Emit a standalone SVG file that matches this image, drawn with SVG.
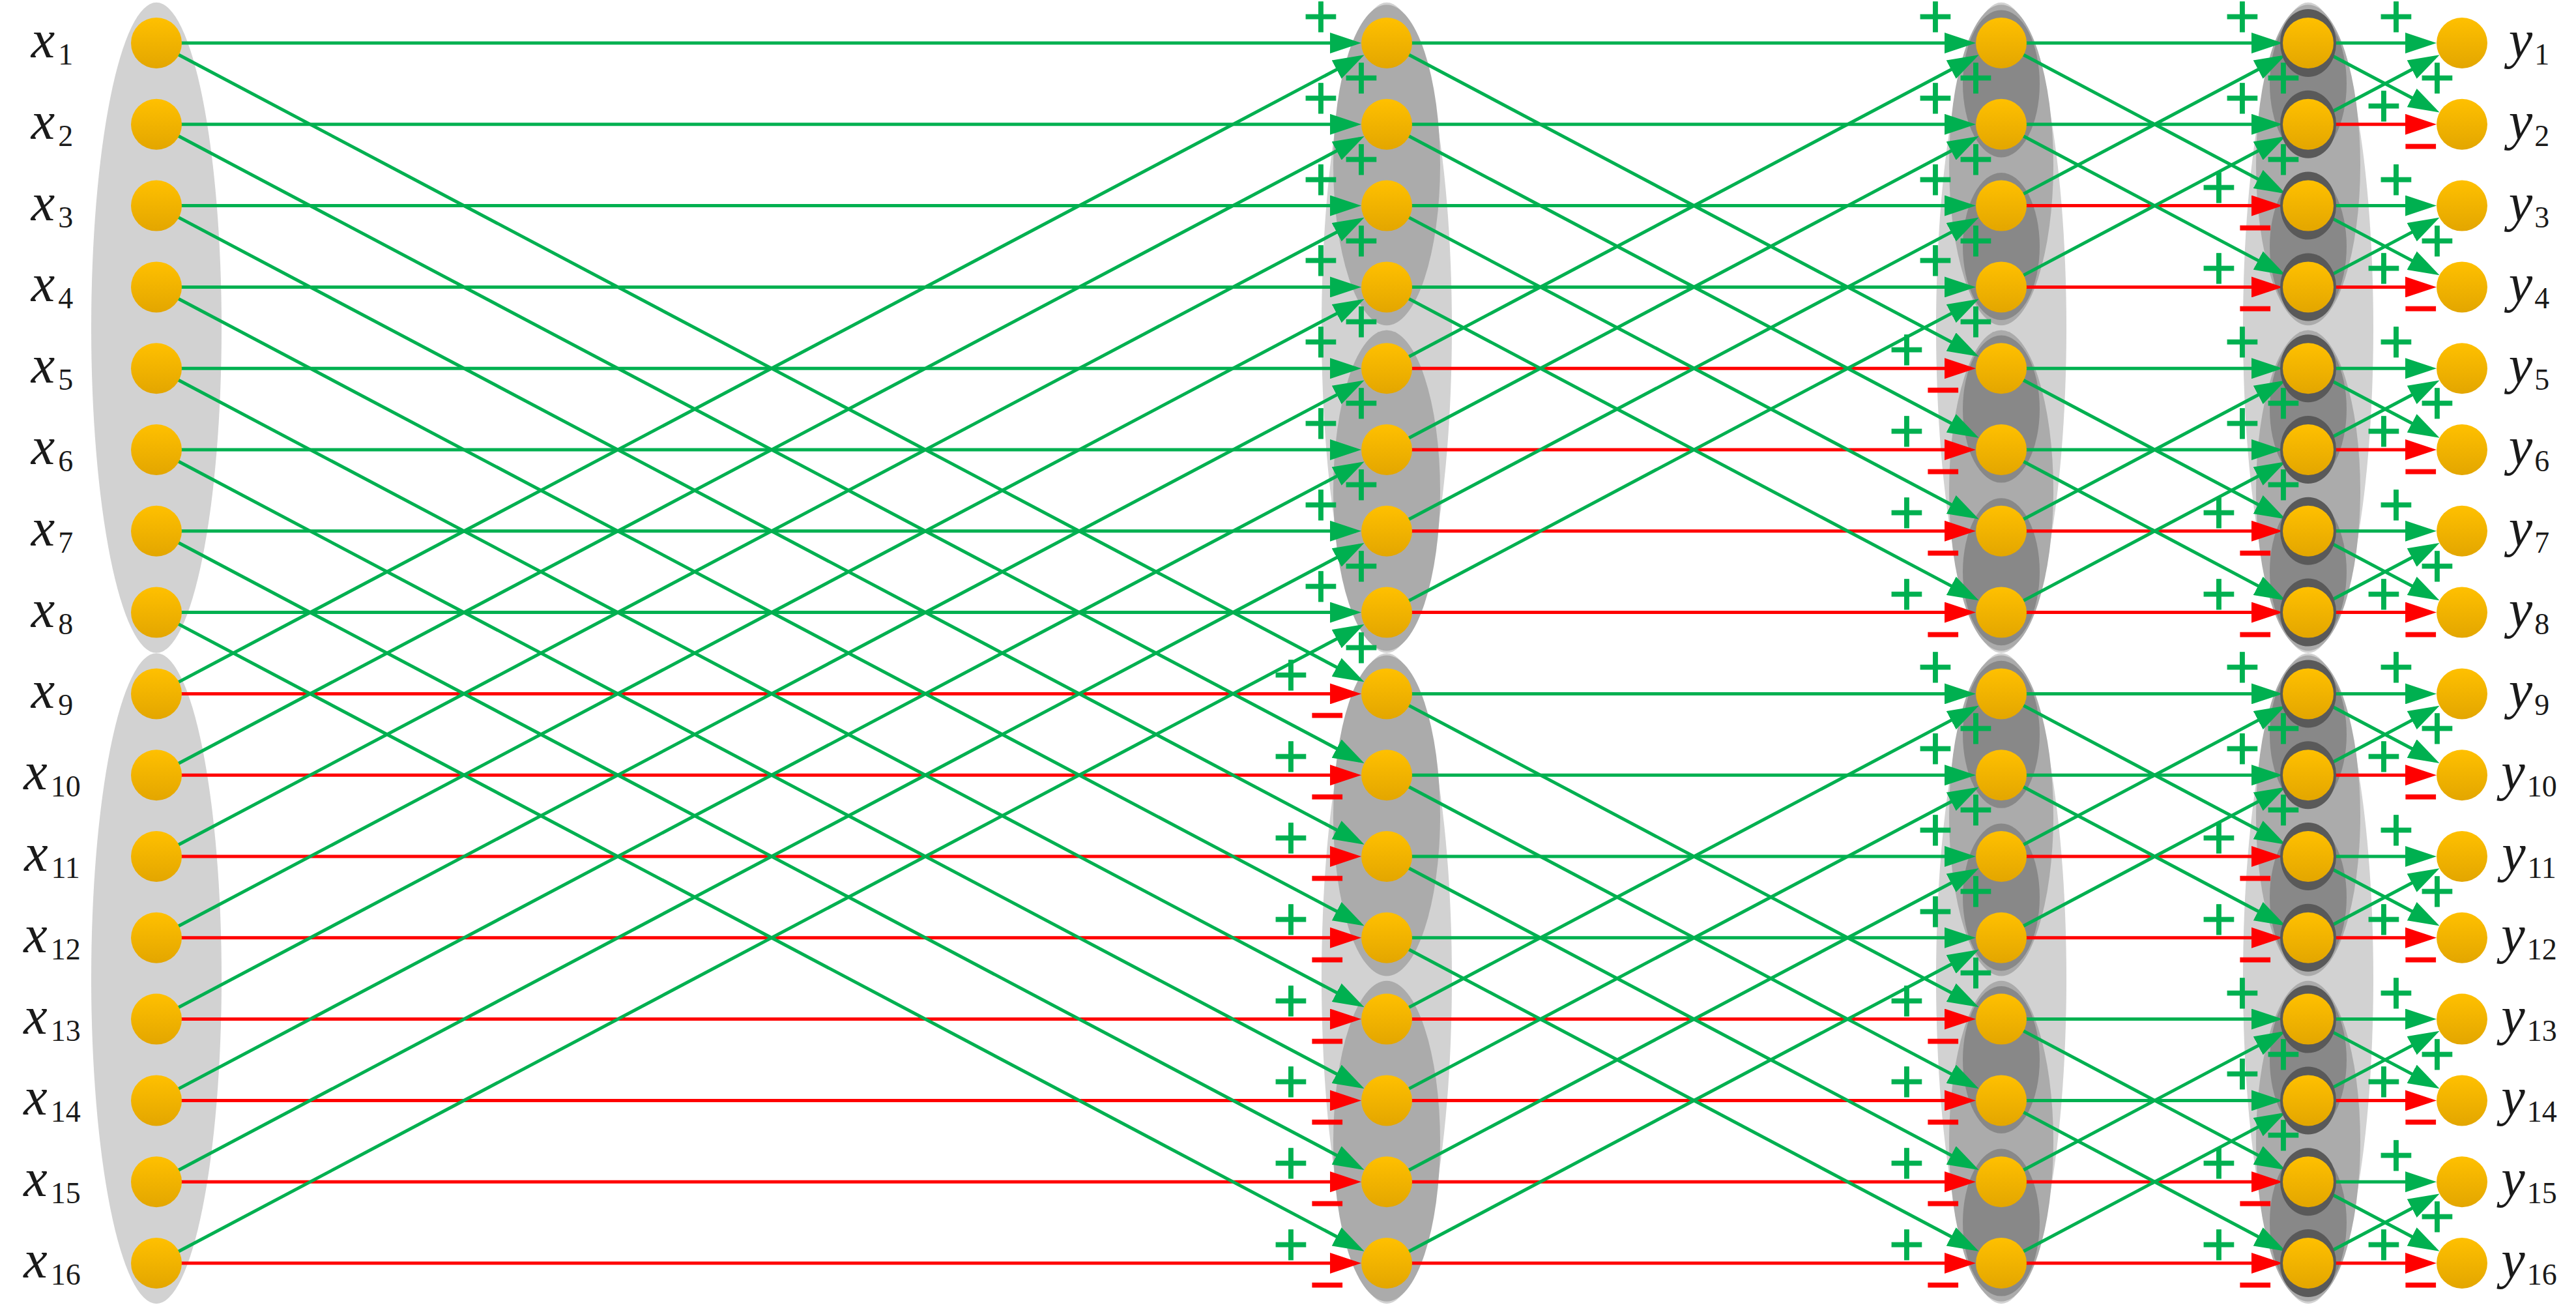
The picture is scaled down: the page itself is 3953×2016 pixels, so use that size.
<svg xmlns="http://www.w3.org/2000/svg" width="3953" height="2016" viewBox="0 0 3953 2016">
<defs>
<linearGradient id="ng" x1="0" y1="0" x2="0" y2="1"><stop offset="0" stop-color="#FFC000"/><stop offset="1" stop-color="#E3A600"/></linearGradient>
<marker id="ag" markerUnits="userSpaceOnUse" markerWidth="48" markerHeight="32" viewBox="0 -16 48 32" refX="40" refY="0" orient="auto"><path d="M0,-16 L48,0 L0,16 z" fill="#00B050"/></marker>
<marker id="ar" markerUnits="userSpaceOnUse" markerWidth="48" markerHeight="32" viewBox="0 -16 48 32" refX="40" refY="0" orient="auto"><path d="M0,-16 L48,0 L0,16 z" fill="#FF0000"/></marker>
<style>
.g{stroke:#00B050;stroke-width:5;marker-end:url(#ag)}
.r{stroke:#FF0000;stroke-width:5;marker-end:url(#ar)}
.n{fill:url(#ng)}
.l0{fill:#d2d2d2}.l1{fill:#ababab}.l2{fill:#888888}.l3{fill:#595959}
.t{font-family:"Liberation Serif","Times New Roman",serif;font-size:82px;font-style:italic;fill:#1a1a1a;text-anchor:middle}
.s{font-style:normal;font-size:46px}
.p{font-family:"Liberation Sans",Arial,sans-serif;font-size:94px;text-anchor:middle;fill:#00B050;stroke:#00B050;stroke-width:1}
.m{font-family:"Liberation Sans",Arial,sans-serif;font-size:94px;text-anchor:middle;fill:#FF0000;stroke:#FF0000;stroke-width:1}
</style>
</defs>
<rect width="3953" height="2016" fill="#ffffff"/>
<g id="groups">
<ellipse cx="240" cy="502.8" rx="100" ry="499" class="l0"/>
<ellipse cx="240" cy="1501.2" rx="100" ry="499" class="l0"/>
<ellipse cx="2128" cy="502.8" rx="100" ry="499" class="l0"/>
<ellipse cx="2128" cy="1501.2" rx="100" ry="499" class="l0"/>
<ellipse cx="2128" cy="253.2" rx="82" ry="246" class="l1"/>
<ellipse cx="2128" cy="752.4" rx="82" ry="246" class="l1"/>
<ellipse cx="2128" cy="1251.6" rx="82" ry="246" class="l1"/>
<ellipse cx="2128" cy="1750.8" rx="82" ry="246" class="l1"/>
<ellipse cx="3071" cy="502.8" rx="100" ry="499" class="l0"/>
<ellipse cx="3071" cy="1501.2" rx="100" ry="499" class="l0"/>
<ellipse cx="3071" cy="253.2" rx="80" ry="246" class="l1"/>
<ellipse cx="3071" cy="752.4" rx="80" ry="246" class="l1"/>
<ellipse cx="3071" cy="1251.6" rx="80" ry="246" class="l1"/>
<ellipse cx="3071" cy="1750.8" rx="80" ry="246" class="l1"/>
<ellipse cx="3071" cy="128.4" rx="59" ry="113" class="l2"/>
<ellipse cx="3071" cy="378" rx="59" ry="113" class="l2"/>
<ellipse cx="3071" cy="627.6" rx="59" ry="113" class="l2"/>
<ellipse cx="3071" cy="877.2" rx="59" ry="113" class="l2"/>
<ellipse cx="3071" cy="1126.8" rx="59" ry="113" class="l2"/>
<ellipse cx="3071" cy="1376.4" rx="59" ry="113" class="l2"/>
<ellipse cx="3071" cy="1626" rx="59" ry="113" class="l2"/>
<ellipse cx="3071" cy="1875.6" rx="59" ry="113" class="l2"/>
<ellipse cx="3542" cy="502.8" rx="100" ry="499" class="l0"/>
<ellipse cx="3542" cy="1501.2" rx="100" ry="499" class="l0"/>
<ellipse cx="3542" cy="253.2" rx="80" ry="246" class="l1"/>
<ellipse cx="3542" cy="752.4" rx="80" ry="246" class="l1"/>
<ellipse cx="3542" cy="1251.6" rx="80" ry="246" class="l1"/>
<ellipse cx="3542" cy="1750.8" rx="80" ry="246" class="l1"/>
<ellipse cx="3542" cy="128.4" rx="59" ry="113" class="l2"/>
<ellipse cx="3542" cy="378" rx="59" ry="113" class="l2"/>
<ellipse cx="3542" cy="627.6" rx="59" ry="113" class="l2"/>
<ellipse cx="3542" cy="877.2" rx="59" ry="113" class="l2"/>
<ellipse cx="3542" cy="1126.8" rx="59" ry="113" class="l2"/>
<ellipse cx="3542" cy="1376.4" rx="59" ry="113" class="l2"/>
<ellipse cx="3542" cy="1626" rx="59" ry="113" class="l2"/>
<ellipse cx="3542" cy="1875.6" rx="59" ry="113" class="l2"/>
</g>
<g id="connectors">
<g id="red">
<line class="r" x1="240" y1="1064.4" x2="2081" y2="1064.4"/>
<line class="r" x1="240" y1="1189.2" x2="2081" y2="1189.2"/>
<line class="r" x1="240" y1="1314" x2="2081" y2="1314"/>
<line class="r" x1="240" y1="1438.8" x2="2081" y2="1438.8"/>
<line class="r" x1="240" y1="1563.6" x2="2081" y2="1563.6"/>
<line class="r" x1="240" y1="1688.4" x2="2081" y2="1688.4"/>
<line class="r" x1="240" y1="1813.2" x2="2081" y2="1813.2"/>
<line class="r" x1="240" y1="1938" x2="2081" y2="1938"/>
<line class="r" x1="2128" y1="565.2" x2="3024" y2="565.2"/>
<line class="r" x1="2128" y1="690" x2="3024" y2="690"/>
<line class="r" x1="2128" y1="814.8" x2="3024" y2="814.8"/>
<line class="r" x1="2128" y1="939.6" x2="3024" y2="939.6"/>
<line class="r" x1="2128" y1="1563.6" x2="3024" y2="1563.6"/>
<line class="r" x1="2128" y1="1688.4" x2="3024" y2="1688.4"/>
<line class="r" x1="2128" y1="1813.2" x2="3024" y2="1813.2"/>
<line class="r" x1="2128" y1="1938" x2="3024" y2="1938"/>
<line class="r" x1="3071" y1="315.6" x2="3495" y2="315.6"/>
<line class="r" x1="3071" y1="440.4" x2="3495" y2="440.4"/>
<line class="r" x1="3071" y1="814.8" x2="3495" y2="814.8"/>
<line class="r" x1="3071" y1="939.6" x2="3495" y2="939.6"/>
<line class="r" x1="3071" y1="1314" x2="3495" y2="1314"/>
<line class="r" x1="3071" y1="1438.8" x2="3495" y2="1438.8"/>
<line class="r" x1="3071" y1="1813.2" x2="3495" y2="1813.2"/>
<line class="r" x1="3071" y1="1938" x2="3495" y2="1938"/>
<line class="r" x1="3542" y1="190.8" x2="3731" y2="190.8"/>
<line class="r" x1="3542" y1="440.4" x2="3731" y2="440.4"/>
<line class="r" x1="3542" y1="690" x2="3731" y2="690"/>
<line class="r" x1="3542" y1="939.6" x2="3731" y2="939.6"/>
<line class="r" x1="3542" y1="1189.2" x2="3731" y2="1189.2"/>
<line class="r" x1="3542" y1="1438.8" x2="3731" y2="1438.8"/>
<line class="r" x1="3542" y1="1688.4" x2="3731" y2="1688.4"/>
<line class="r" x1="3542" y1="1938" x2="3731" y2="1938"/>
</g>
<g id="green">
<line class="g" x1="240" y1="66" x2="2081" y2="66"/>
<line class="g" x1="240" y1="190.8" x2="2081" y2="190.8"/>
<line class="g" x1="240" y1="315.6" x2="2081" y2="315.6"/>
<line class="g" x1="240" y1="440.4" x2="2081" y2="440.4"/>
<line class="g" x1="240" y1="565.2" x2="2081" y2="565.2"/>
<line class="g" x1="240" y1="690" x2="2081" y2="690"/>
<line class="g" x1="240" y1="814.8" x2="2081" y2="814.8"/>
<line class="g" x1="240" y1="939.6" x2="2081" y2="939.6"/>
<line class="g" x1="240" y1="66" x2="2086.5" y2="1042.4"/>
<line class="g" x1="240" y1="190.8" x2="2086.5" y2="1167.2"/>
<line class="g" x1="240" y1="315.6" x2="2086.5" y2="1292"/>
<line class="g" x1="240" y1="440.4" x2="2086.5" y2="1416.8"/>
<line class="g" x1="240" y1="565.2" x2="2086.5" y2="1541.6"/>
<line class="g" x1="240" y1="690" x2="2086.5" y2="1666.4"/>
<line class="g" x1="240" y1="814.8" x2="2086.5" y2="1791.2"/>
<line class="g" x1="240" y1="939.6" x2="2086.5" y2="1916"/>
<line class="g" x1="240" y1="1064.4" x2="2086.5" y2="88"/>
<line class="g" x1="240" y1="1189.2" x2="2086.5" y2="212.8"/>
<line class="g" x1="240" y1="1314" x2="2086.5" y2="337.6"/>
<line class="g" x1="240" y1="1438.8" x2="2086.5" y2="462.4"/>
<line class="g" x1="240" y1="1563.6" x2="2086.5" y2="587.2"/>
<line class="g" x1="240" y1="1688.4" x2="2086.5" y2="712"/>
<line class="g" x1="240" y1="1813.2" x2="2086.5" y2="836.8"/>
<line class="g" x1="240" y1="1938" x2="2086.5" y2="961.6"/>
<line class="g" x1="2128" y1="66" x2="3024" y2="66"/>
<line class="g" x1="2128" y1="190.8" x2="3024" y2="190.8"/>
<line class="g" x1="2128" y1="315.6" x2="3024" y2="315.6"/>
<line class="g" x1="2128" y1="440.4" x2="3024" y2="440.4"/>
<line class="g" x1="2128" y1="1064.4" x2="3024" y2="1064.4"/>
<line class="g" x1="2128" y1="1189.2" x2="3024" y2="1189.2"/>
<line class="g" x1="2128" y1="1314" x2="3024" y2="1314"/>
<line class="g" x1="2128" y1="1438.8" x2="3024" y2="1438.8"/>
<line class="g" x1="2128" y1="66" x2="3029.5" y2="543.2"/>
<line class="g" x1="2128" y1="190.8" x2="3029.5" y2="668"/>
<line class="g" x1="2128" y1="315.6" x2="3029.5" y2="792.8"/>
<line class="g" x1="2128" y1="440.4" x2="3029.5" y2="917.6"/>
<line class="g" x1="2128" y1="1064.4" x2="3029.5" y2="1541.6"/>
<line class="g" x1="2128" y1="1189.2" x2="3029.5" y2="1666.4"/>
<line class="g" x1="2128" y1="1314" x2="3029.5" y2="1791.2"/>
<line class="g" x1="2128" y1="1438.8" x2="3029.5" y2="1916"/>
<line class="g" x1="2128" y1="565.2" x2="3029.5" y2="88"/>
<line class="g" x1="2128" y1="690" x2="3029.5" y2="212.8"/>
<line class="g" x1="2128" y1="814.8" x2="3029.5" y2="337.6"/>
<line class="g" x1="2128" y1="939.6" x2="3029.5" y2="462.4"/>
<line class="g" x1="2128" y1="1563.6" x2="3029.5" y2="1086.4"/>
<line class="g" x1="2128" y1="1688.4" x2="3029.5" y2="1211.2"/>
<line class="g" x1="2128" y1="1813.2" x2="3029.5" y2="1336"/>
<line class="g" x1="2128" y1="1938" x2="3029.5" y2="1460.8"/>
<line class="g" x1="3071" y1="66" x2="3495" y2="66"/>
<line class="g" x1="3071" y1="190.8" x2="3495" y2="190.8"/>
<line class="g" x1="3071" y1="565.2" x2="3495" y2="565.2"/>
<line class="g" x1="3071" y1="690" x2="3495" y2="690"/>
<line class="g" x1="3071" y1="1064.4" x2="3495" y2="1064.4"/>
<line class="g" x1="3071" y1="1189.2" x2="3495" y2="1189.2"/>
<line class="g" x1="3071" y1="1563.6" x2="3495" y2="1563.6"/>
<line class="g" x1="3071" y1="1688.4" x2="3495" y2="1688.4"/>
<line class="g" x1="3071" y1="66" x2="3500.5" y2="293.6"/>
<line class="g" x1="3071" y1="190.8" x2="3500.5" y2="418.4"/>
<line class="g" x1="3071" y1="565.2" x2="3500.5" y2="792.8"/>
<line class="g" x1="3071" y1="690" x2="3500.5" y2="917.6"/>
<line class="g" x1="3071" y1="1064.4" x2="3500.5" y2="1292"/>
<line class="g" x1="3071" y1="1189.2" x2="3500.5" y2="1416.8"/>
<line class="g" x1="3071" y1="1563.6" x2="3500.5" y2="1791.2"/>
<line class="g" x1="3071" y1="1688.4" x2="3500.5" y2="1916"/>
<line class="g" x1="3071" y1="315.6" x2="3500.5" y2="88"/>
<line class="g" x1="3071" y1="440.4" x2="3500.5" y2="212.8"/>
<line class="g" x1="3071" y1="814.8" x2="3500.5" y2="587.2"/>
<line class="g" x1="3071" y1="939.6" x2="3500.5" y2="712"/>
<line class="g" x1="3071" y1="1314" x2="3500.5" y2="1086.4"/>
<line class="g" x1="3071" y1="1438.8" x2="3500.5" y2="1211.2"/>
<line class="g" x1="3071" y1="1813.2" x2="3500.5" y2="1585.6"/>
<line class="g" x1="3071" y1="1938" x2="3500.5" y2="1710.4"/>
<line class="g" x1="3542" y1="66" x2="3731" y2="66"/>
<line class="g" x1="3542" y1="315.6" x2="3731" y2="315.6"/>
<line class="g" x1="3542" y1="565.2" x2="3731" y2="565.2"/>
<line class="g" x1="3542" y1="814.8" x2="3731" y2="814.8"/>
<line class="g" x1="3542" y1="1064.4" x2="3731" y2="1064.4"/>
<line class="g" x1="3542" y1="1314" x2="3731" y2="1314"/>
<line class="g" x1="3542" y1="1563.6" x2="3731" y2="1563.6"/>
<line class="g" x1="3542" y1="1813.2" x2="3731" y2="1813.2"/>
<line class="g" x1="3542" y1="66" x2="3736.5" y2="168.8"/>
<line class="g" x1="3542" y1="315.6" x2="3736.5" y2="418.4"/>
<line class="g" x1="3542" y1="565.2" x2="3736.5" y2="668"/>
<line class="g" x1="3542" y1="814.8" x2="3736.5" y2="917.6"/>
<line class="g" x1="3542" y1="1064.4" x2="3736.5" y2="1167.2"/>
<line class="g" x1="3542" y1="1314" x2="3736.5" y2="1416.8"/>
<line class="g" x1="3542" y1="1563.6" x2="3736.5" y2="1666.4"/>
<line class="g" x1="3542" y1="1813.2" x2="3736.5" y2="1916"/>
<line class="g" x1="3542" y1="190.8" x2="3736.5" y2="88"/>
<line class="g" x1="3542" y1="440.4" x2="3736.5" y2="337.6"/>
<line class="g" x1="3542" y1="690" x2="3736.5" y2="587.2"/>
<line class="g" x1="3542" y1="939.6" x2="3736.5" y2="836.8"/>
<line class="g" x1="3542" y1="1189.2" x2="3736.5" y2="1086.4"/>
<line class="g" x1="3542" y1="1438.8" x2="3736.5" y2="1336"/>
<line class="g" x1="3542" y1="1688.4" x2="3736.5" y2="1585.6"/>
<line class="g" x1="3542" y1="1938" x2="3736.5" y2="1835.2"/>
</g>
<g id="signs">
<text class="p" x="2027" y="57">+</text><text class="p" x="2089" y="151">+</text>
<text class="p" x="2027" y="181.8">+</text><text class="p" x="2089" y="275.8">+</text>
<text class="p" x="2027" y="306.6">+</text><text class="p" x="2089" y="400.6">+</text>
<text class="p" x="2027" y="431.4">+</text><text class="p" x="2089" y="525.4">+</text>
<text class="p" x="2027" y="556.2">+</text><text class="p" x="2089" y="650.2">+</text>
<text class="p" x="2027" y="681">+</text><text class="p" x="2089" y="775">+</text>
<text class="p" x="2027" y="805.8">+</text><text class="p" x="2089" y="899.8">+</text>
<text class="p" x="2027" y="930.6">+</text><text class="p" x="2089" y="1024.6">+</text>
<text class="p" x="1981" y="1067.4">+</text><text class="m" x="2037" y="1129.4">−</text>
<text class="p" x="1981" y="1192.2">+</text><text class="m" x="2037" y="1254.2">−</text>
<text class="p" x="1981" y="1317">+</text><text class="m" x="2037" y="1379">−</text>
<text class="p" x="1981" y="1441.8">+</text><text class="m" x="2037" y="1503.8">−</text>
<text class="p" x="1981" y="1566.6">+</text><text class="m" x="2037" y="1628.6">−</text>
<text class="p" x="1981" y="1691.4">+</text><text class="m" x="2037" y="1753.4">−</text>
<text class="p" x="1981" y="1816.2">+</text><text class="m" x="2037" y="1878.2">−</text>
<text class="p" x="1981" y="1941">+</text><text class="m" x="2037" y="2003">−</text>
<text class="p" x="2970" y="57">+</text><text class="p" x="3032" y="151">+</text>
<text class="p" x="2970" y="181.8">+</text><text class="p" x="3032" y="275.8">+</text>
<text class="p" x="2970" y="306.6">+</text><text class="p" x="3032" y="400.6">+</text>
<text class="p" x="2970" y="431.4">+</text><text class="p" x="3032" y="525.4">+</text>
<text class="p" x="2926" y="568.2">+</text><text class="m" x="2982" y="630.2">−</text>
<text class="p" x="2926" y="693">+</text><text class="m" x="2982" y="755">−</text>
<text class="p" x="2926" y="817.8">+</text><text class="m" x="2982" y="879.8">−</text>
<text class="p" x="2926" y="942.6">+</text><text class="m" x="2982" y="1004.6">−</text>
<text class="p" x="2970" y="1055.4">+</text><text class="p" x="3032" y="1149.4">+</text>
<text class="p" x="2970" y="1180.2">+</text><text class="p" x="3032" y="1274.2">+</text>
<text class="p" x="2970" y="1305">+</text><text class="p" x="3032" y="1399">+</text>
<text class="p" x="2970" y="1429.8">+</text><text class="p" x="3032" y="1523.8">+</text>
<text class="p" x="2926" y="1566.6">+</text><text class="m" x="2982" y="1628.6">−</text>
<text class="p" x="2926" y="1691.4">+</text><text class="m" x="2982" y="1753.4">−</text>
<text class="p" x="2926" y="1816.2">+</text><text class="m" x="2982" y="1878.2">−</text>
<text class="p" x="2926" y="1941">+</text><text class="m" x="2982" y="2003">−</text>
<text class="p" x="3441" y="57">+</text><text class="p" x="3504" y="151">+</text>
<text class="p" x="3441" y="181.8">+</text><text class="p" x="3504" y="275.8">+</text>
<text class="p" x="3405" y="318.6">+</text><text class="m" x="3461" y="380.6">−</text>
<text class="p" x="3405" y="443.4">+</text><text class="m" x="3461" y="505.4">−</text>
<text class="p" x="3441" y="556.2">+</text><text class="p" x="3504" y="650.2">+</text>
<text class="p" x="3441" y="681">+</text><text class="p" x="3504" y="775">+</text>
<text class="p" x="3405" y="817.8">+</text><text class="m" x="3461" y="879.8">−</text>
<text class="p" x="3405" y="942.6">+</text><text class="m" x="3461" y="1004.6">−</text>
<text class="p" x="3441" y="1055.4">+</text><text class="p" x="3504" y="1149.4">+</text>
<text class="p" x="3441" y="1180.2">+</text><text class="p" x="3504" y="1274.2">+</text>
<text class="p" x="3405" y="1317">+</text><text class="m" x="3461" y="1379">−</text>
<text class="p" x="3405" y="1441.8">+</text><text class="m" x="3461" y="1503.8">−</text>
<text class="p" x="3441" y="1554.6">+</text><text class="p" x="3504" y="1648.6">+</text>
<text class="p" x="3441" y="1679.4">+</text><text class="p" x="3504" y="1773.4">+</text>
<text class="p" x="3405" y="1816.2">+</text><text class="m" x="3461" y="1878.2">−</text>
<text class="p" x="3405" y="1941">+</text><text class="m" x="3461" y="2003">−</text>
<text class="p" x="3677" y="57">+</text><text class="p" x="3740" y="151">+</text>
<text class="p" x="3658" y="193.8">+</text><text class="m" x="3715" y="255.8">−</text>
<text class="p" x="3677" y="306.6">+</text><text class="p" x="3740" y="400.6">+</text>
<text class="p" x="3658" y="443.4">+</text><text class="m" x="3715" y="505.4">−</text>
<text class="p" x="3677" y="556.2">+</text><text class="p" x="3740" y="650.2">+</text>
<text class="p" x="3658" y="693">+</text><text class="m" x="3715" y="755">−</text>
<text class="p" x="3677" y="805.8">+</text><text class="p" x="3740" y="899.8">+</text>
<text class="p" x="3658" y="942.6">+</text><text class="m" x="3715" y="1004.6">−</text>
<text class="p" x="3677" y="1055.4">+</text><text class="p" x="3740" y="1149.4">+</text>
<text class="p" x="3658" y="1192.2">+</text><text class="m" x="3715" y="1254.2">−</text>
<text class="p" x="3677" y="1305">+</text><text class="p" x="3740" y="1399">+</text>
<text class="p" x="3658" y="1441.8">+</text><text class="m" x="3715" y="1503.8">−</text>
<text class="p" x="3677" y="1554.6">+</text><text class="p" x="3740" y="1648.6">+</text>
<text class="p" x="3658" y="1691.4">+</text><text class="m" x="3715" y="1753.4">−</text>
<text class="p" x="3677" y="1804.2">+</text><text class="p" x="3740" y="1898.2">+</text>
<text class="p" x="3658" y="1941">+</text><text class="m" x="3715" y="2003">−</text>
</g>
</g>
<g id="inputs">
<g id="x1"><circle class="n" cx="240" cy="66" r="39"/><text class="t" x="80" y="88">x<tspan class="s" dx="5" dy="11">1</tspan></text></g>
<g id="x2"><circle class="n" cx="240" cy="190.8" r="39"/><text class="t" x="80" y="212.8">x<tspan class="s" dx="5" dy="11">2</tspan></text></g>
<g id="x3"><circle class="n" cx="240" cy="315.6" r="39"/><text class="t" x="80" y="337.6">x<tspan class="s" dx="5" dy="11">3</tspan></text></g>
<g id="x4"><circle class="n" cx="240" cy="440.4" r="39"/><text class="t" x="80" y="462.4">x<tspan class="s" dx="5" dy="11">4</tspan></text></g>
<g id="x5"><circle class="n" cx="240" cy="565.2" r="39"/><text class="t" x="80" y="587.2">x<tspan class="s" dx="5" dy="11">5</tspan></text></g>
<g id="x6"><circle class="n" cx="240" cy="690" r="39"/><text class="t" x="80" y="712">x<tspan class="s" dx="5" dy="11">6</tspan></text></g>
<g id="x7"><circle class="n" cx="240" cy="814.8" r="39"/><text class="t" x="80" y="836.8">x<tspan class="s" dx="5" dy="11">7</tspan></text></g>
<g id="x8"><circle class="n" cx="240" cy="939.6" r="39"/><text class="t" x="80" y="961.6">x<tspan class="s" dx="5" dy="11">8</tspan></text></g>
<g id="x9"><circle class="n" cx="240" cy="1064.4" r="39"/><text class="t" x="80" y="1086.4">x<tspan class="s" dx="5" dy="11">9</tspan></text></g>
<g id="x10"><circle class="n" cx="240" cy="1189.2" r="39"/><text class="t" x="80" y="1211.2">x<tspan class="s" dx="5" dy="11">10</tspan></text></g>
<g id="x11"><circle class="n" cx="240" cy="1314" r="39"/><text class="t" x="80" y="1336">x<tspan class="s" dx="5" dy="11">11</tspan></text></g>
<g id="x12"><circle class="n" cx="240" cy="1438.8" r="39"/><text class="t" x="80" y="1460.8">x<tspan class="s" dx="5" dy="11">12</tspan></text></g>
<g id="x13"><circle class="n" cx="240" cy="1563.6" r="39"/><text class="t" x="80" y="1585.6">x<tspan class="s" dx="5" dy="11">13</tspan></text></g>
<g id="x14"><circle class="n" cx="240" cy="1688.4" r="39"/><text class="t" x="80" y="1710.4">x<tspan class="s" dx="5" dy="11">14</tspan></text></g>
<g id="x15"><circle class="n" cx="240" cy="1813.2" r="39"/><text class="t" x="80" y="1835.2">x<tspan class="s" dx="5" dy="11">15</tspan></text></g>
<g id="x16"><circle class="n" cx="240" cy="1938" r="39"/><text class="t" x="80" y="1960">x<tspan class="s" dx="5" dy="11">16</tspan></text></g>
</g>
<g id="stage1">
<g id="a1"><circle class="n" cx="2128" cy="66" r="39"/></g>
<g id="a2"><circle class="n" cx="2128" cy="190.8" r="39"/></g>
<g id="a3"><circle class="n" cx="2128" cy="315.6" r="39"/></g>
<g id="a4"><circle class="n" cx="2128" cy="440.4" r="39"/></g>
<g id="a5"><circle class="n" cx="2128" cy="565.2" r="39"/></g>
<g id="a6"><circle class="n" cx="2128" cy="690" r="39"/></g>
<g id="a7"><circle class="n" cx="2128" cy="814.8" r="39"/></g>
<g id="a8"><circle class="n" cx="2128" cy="939.6" r="39"/></g>
<g id="a9"><circle class="n" cx="2128" cy="1064.4" r="39"/></g>
<g id="a10"><circle class="n" cx="2128" cy="1189.2" r="39"/></g>
<g id="a11"><circle class="n" cx="2128" cy="1314" r="39"/></g>
<g id="a12"><circle class="n" cx="2128" cy="1438.8" r="39"/></g>
<g id="a13"><circle class="n" cx="2128" cy="1563.6" r="39"/></g>
<g id="a14"><circle class="n" cx="2128" cy="1688.4" r="39"/></g>
<g id="a15"><circle class="n" cx="2128" cy="1813.2" r="39"/></g>
<g id="a16"><circle class="n" cx="2128" cy="1938" r="39"/></g>
</g>
<g id="stage2">
<g id="b1"><circle class="n" cx="3071" cy="66" r="39"/></g>
<g id="b2"><circle class="n" cx="3071" cy="190.8" r="39"/></g>
<g id="b3"><circle class="n" cx="3071" cy="315.6" r="39"/></g>
<g id="b4"><circle class="n" cx="3071" cy="440.4" r="39"/></g>
<g id="b5"><circle class="n" cx="3071" cy="565.2" r="39"/></g>
<g id="b6"><circle class="n" cx="3071" cy="690" r="39"/></g>
<g id="b7"><circle class="n" cx="3071" cy="814.8" r="39"/></g>
<g id="b8"><circle class="n" cx="3071" cy="939.6" r="39"/></g>
<g id="b9"><circle class="n" cx="3071" cy="1064.4" r="39"/></g>
<g id="b10"><circle class="n" cx="3071" cy="1189.2" r="39"/></g>
<g id="b11"><circle class="n" cx="3071" cy="1314" r="39"/></g>
<g id="b12"><circle class="n" cx="3071" cy="1438.8" r="39"/></g>
<g id="b13"><circle class="n" cx="3071" cy="1563.6" r="39"/></g>
<g id="b14"><circle class="n" cx="3071" cy="1688.4" r="39"/></g>
<g id="b15"><circle class="n" cx="3071" cy="1813.2" r="39"/></g>
<g id="b16"><circle class="n" cx="3071" cy="1938" r="39"/></g>
</g>
<g id="stage3">
<g id="c1"><ellipse class="l3" cx="3542" cy="66" rx="43" ry="52"/><circle class="n" cx="3542" cy="66" r="39"/></g>
<g id="c2"><ellipse class="l3" cx="3542" cy="190.8" rx="43" ry="52"/><circle class="n" cx="3542" cy="190.8" r="39"/></g>
<g id="c3"><ellipse class="l3" cx="3542" cy="315.6" rx="43" ry="52"/><circle class="n" cx="3542" cy="315.6" r="39"/></g>
<g id="c4"><ellipse class="l3" cx="3542" cy="440.4" rx="43" ry="52"/><circle class="n" cx="3542" cy="440.4" r="39"/></g>
<g id="c5"><ellipse class="l3" cx="3542" cy="565.2" rx="43" ry="52"/><circle class="n" cx="3542" cy="565.2" r="39"/></g>
<g id="c6"><ellipse class="l3" cx="3542" cy="690" rx="43" ry="52"/><circle class="n" cx="3542" cy="690" r="39"/></g>
<g id="c7"><ellipse class="l3" cx="3542" cy="814.8" rx="43" ry="52"/><circle class="n" cx="3542" cy="814.8" r="39"/></g>
<g id="c8"><ellipse class="l3" cx="3542" cy="939.6" rx="43" ry="52"/><circle class="n" cx="3542" cy="939.6" r="39"/></g>
<g id="c9"><ellipse class="l3" cx="3542" cy="1064.4" rx="43" ry="52"/><circle class="n" cx="3542" cy="1064.4" r="39"/></g>
<g id="c10"><ellipse class="l3" cx="3542" cy="1189.2" rx="43" ry="52"/><circle class="n" cx="3542" cy="1189.2" r="39"/></g>
<g id="c11"><ellipse class="l3" cx="3542" cy="1314" rx="43" ry="52"/><circle class="n" cx="3542" cy="1314" r="39"/></g>
<g id="c12"><ellipse class="l3" cx="3542" cy="1438.8" rx="43" ry="52"/><circle class="n" cx="3542" cy="1438.8" r="39"/></g>
<g id="c13"><ellipse class="l3" cx="3542" cy="1563.6" rx="43" ry="52"/><circle class="n" cx="3542" cy="1563.6" r="39"/></g>
<g id="c14"><ellipse class="l3" cx="3542" cy="1688.4" rx="43" ry="52"/><circle class="n" cx="3542" cy="1688.4" r="39"/></g>
<g id="c15"><ellipse class="l3" cx="3542" cy="1813.2" rx="43" ry="52"/><circle class="n" cx="3542" cy="1813.2" r="39"/></g>
<g id="c16"><ellipse class="l3" cx="3542" cy="1938" rx="43" ry="52"/><circle class="n" cx="3542" cy="1938" r="39"/></g>
</g>
<g id="outputs">
<g id="y1"><circle class="n" cx="3778" cy="66" r="39"/><text class="t" x="3881" y="88">y<tspan class="s" dx="3" dy="11">1</tspan></text></g>
<g id="y2"><circle class="n" cx="3778" cy="190.8" r="39"/><text class="t" x="3881" y="212.8">y<tspan class="s" dx="3" dy="11">2</tspan></text></g>
<g id="y3"><circle class="n" cx="3778" cy="315.6" r="39"/><text class="t" x="3881" y="337.6">y<tspan class="s" dx="3" dy="11">3</tspan></text></g>
<g id="y4"><circle class="n" cx="3778" cy="440.4" r="39"/><text class="t" x="3881" y="462.4">y<tspan class="s" dx="3" dy="11">4</tspan></text></g>
<g id="y5"><circle class="n" cx="3778" cy="565.2" r="39"/><text class="t" x="3881" y="587.2">y<tspan class="s" dx="3" dy="11">5</tspan></text></g>
<g id="y6"><circle class="n" cx="3778" cy="690" r="39"/><text class="t" x="3881" y="712">y<tspan class="s" dx="3" dy="11">6</tspan></text></g>
<g id="y7"><circle class="n" cx="3778" cy="814.8" r="39"/><text class="t" x="3881" y="836.8">y<tspan class="s" dx="3" dy="11">7</tspan></text></g>
<g id="y8"><circle class="n" cx="3778" cy="939.6" r="39"/><text class="t" x="3881" y="961.6">y<tspan class="s" dx="3" dy="11">8</tspan></text></g>
<g id="y9"><circle class="n" cx="3778" cy="1064.4" r="39"/><text class="t" x="3881" y="1086.4">y<tspan class="s" dx="3" dy="11">9</tspan></text></g>
<g id="y10"><circle class="n" cx="3778" cy="1189.2" r="39"/><text class="t" x="3881" y="1211.2">y<tspan class="s" dx="3" dy="11">10</tspan></text></g>
<g id="y11"><circle class="n" cx="3778" cy="1314" r="39"/><text class="t" x="3881" y="1336">y<tspan class="s" dx="3" dy="11">11</tspan></text></g>
<g id="y12"><circle class="n" cx="3778" cy="1438.8" r="39"/><text class="t" x="3881" y="1460.8">y<tspan class="s" dx="3" dy="11">12</tspan></text></g>
<g id="y13"><circle class="n" cx="3778" cy="1563.6" r="39"/><text class="t" x="3881" y="1585.6">y<tspan class="s" dx="3" dy="11">13</tspan></text></g>
<g id="y14"><circle class="n" cx="3778" cy="1688.4" r="39"/><text class="t" x="3881" y="1710.4">y<tspan class="s" dx="3" dy="11">14</tspan></text></g>
<g id="y15"><circle class="n" cx="3778" cy="1813.2" r="39"/><text class="t" x="3881" y="1835.2">y<tspan class="s" dx="3" dy="11">15</tspan></text></g>
<g id="y16"><circle class="n" cx="3778" cy="1938" r="39"/><text class="t" x="3881" y="1960">y<tspan class="s" dx="3" dy="11">16</tspan></text></g>
</g>
</svg>
